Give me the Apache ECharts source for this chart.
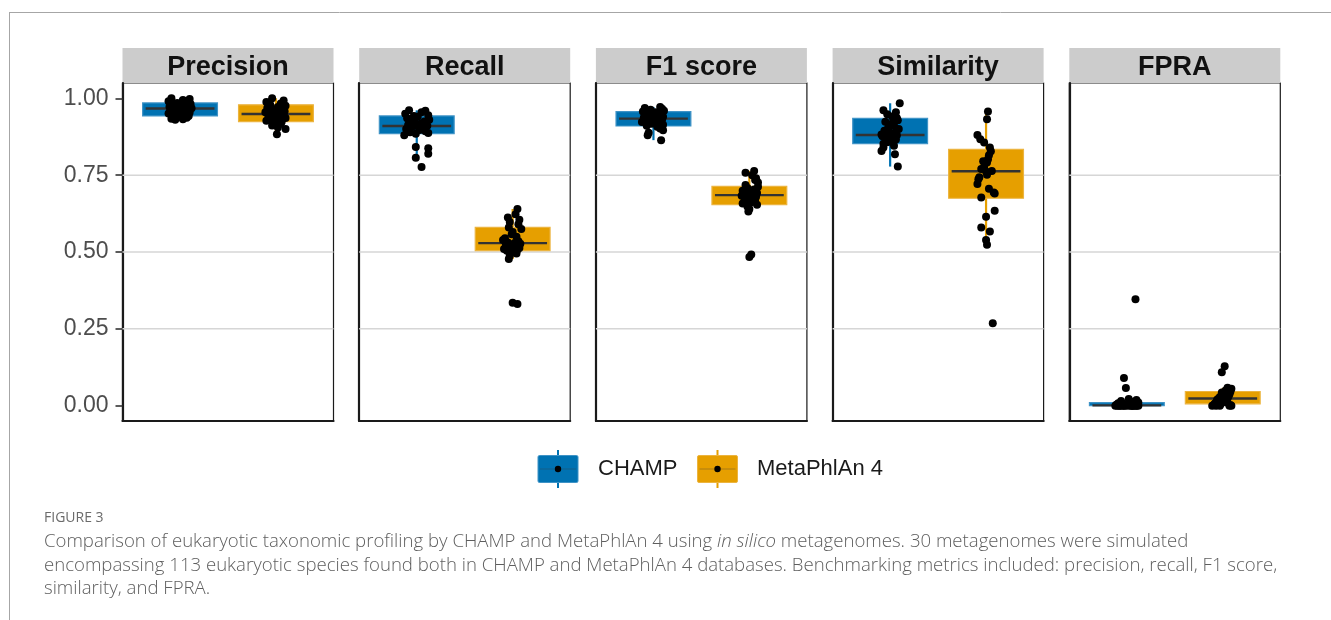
<!DOCTYPE html>
<html>
<head>
<meta charset="utf-8">
<script src="https://cdn.jsdelivr.net/npm/echarts@6/dist/echarts.min.js"></script>
<style>
  html, body { margin: 0; padding: 0; background: #ffffff; }
  #chart { width: 1331px; height: 620px; }
</style>
</head>
<body>
<div id="chart"></div>
<script>
// ---- data -------------------------------------------------------------
const metrics = ['Precision', 'Recall', 'F1 score', 'Similarity', 'FPRA'];
const methods = ['CHAMP', 'MetaPhlAn 4'];
const yTicks = [0, 0.25, 0.5, 0.75, 1];
const gridValues = [0.25, 0.5, 0.75];

// box summaries per metric: [lower whisker, Q1, median, Q3, upper whisker]
const boxChamp = [
  [0.930, 0.943, 0.967, 0.985, 1.000],
  [0.807, 0.885, 0.910, 0.943, 0.961],
  [0.864, 0.910, 0.934, 0.957, 0.972],
  [0.778, 0.853, 0.881, 0.935, 0.984],
  [0.000, 0.000, 0.001, 0.010, 0.022]
];
const boxMeta = [
  [0.883, 0.924, 0.949, 0.979, 1.000],
  [0.477, 0.504, 0.529, 0.580, 0.640],
  [0.632, 0.654, 0.685, 0.714, 0.764],
  [0.524, 0.675, 0.763, 0.834, 0.957],
  [0.000, 0.006, 0.023, 0.046, 0.058]
];

// per-metagenome scores (30 simulated metagenomes)
const precisionChamp = [1.000, 0.998, 0.995, 0.991, 0.988, 0.985, 0.982, 0.980, 0.978, 0.975, 0.973, 0.971, 0.969, 0.968, 0.967, 0.966, 0.964, 0.962, 0.960, 0.957, 0.954, 0.951, 0.948, 0.945, 0.943, 0.940, 0.937, 0.934, 0.932, 0.930];
const precisionMeta = [1.000, 0.993, 0.988, 0.983, 0.979, 0.976, 0.972, 0.969, 0.965, 0.962, 0.958, 0.955, 0.952, 0.950, 0.949, 0.947, 0.945, 0.942, 0.939, 0.936, 0.933, 0.930, 0.927, 0.924, 0.921, 0.917, 0.912, 0.905, 0.900, 0.883];
const recallChamp = [0.961, 0.960, 0.955, 0.950, 0.945, 0.943, 0.940, 0.935, 0.930, 0.928, 0.925, 0.920, 0.917, 0.913, 0.911, 0.910, 0.908, 0.905, 0.900, 0.897, 0.893, 0.890, 0.887, 0.885, 0.880, 0.842, 0.838, 0.820, 0.807, 0.777];
const recallMeta = [0.640, 0.623, 0.612, 0.605, 0.598, 0.590, 0.580, 0.575, 0.565, 0.558, 0.550, 0.545, 0.539, 0.535, 0.531, 0.529, 0.527, 0.524, 0.520, 0.517, 0.513, 0.510, 0.507, 0.504, 0.500, 0.495, 0.488, 0.477, 0.335, 0.331];
const f1Champ = [0.972, 0.969, 0.966, 0.963, 0.960, 0.957, 0.955, 0.952, 0.949, 0.946, 0.943, 0.940, 0.938, 0.936, 0.934, 0.933, 0.931, 0.929, 0.926, 0.923, 0.920, 0.917, 0.914, 0.911, 0.908, 0.902, 0.896, 0.888, 0.880, 0.864];
const f1Meta = [0.764, 0.758, 0.750, 0.740, 0.734, 0.726, 0.718, 0.712, 0.708, 0.703, 0.699, 0.695, 0.692, 0.689, 0.686, 0.685, 0.683, 0.680, 0.677, 0.674, 0.670, 0.666, 0.662, 0.658, 0.654, 0.648, 0.640, 0.632, 0.492, 0.484];
const similarityChamp = [0.984, 0.961, 0.955, 0.948, 0.941, 0.936, 0.929, 0.924, 0.918, 0.912, 0.905, 0.900, 0.895, 0.891, 0.888, 0.884, 0.882, 0.880, 0.877, 0.873, 0.870, 0.866, 0.862, 0.857, 0.852, 0.846, 0.840, 0.829, 0.818, 0.778];
const similarityMeta = [0.957, 0.932, 0.881, 0.867, 0.856, 0.840, 0.828, 0.815, 0.802, 0.795, 0.791, 0.777, 0.770, 0.764, 0.762, 0.751, 0.743, 0.737, 0.721, 0.706, 0.694, 0.690, 0.677, 0.634, 0.615, 0.580, 0.567, 0.539, 0.524, 0.268];
const fpraChamp = [0.346, 0.090, 0.057, 0.022, 0.018, 0.015, 0.012, 0.010, 0.008, 0.006, 0.005, 0.004, 0.003, 0.002, 0.001, 0, 0, 0, 0, 0, 0, 0, 0, 0, 0, 0, 0, 0, 0, 0];
const fpraMeta = [0.128, 0.109, 0.058, 0.055, 0.052, 0.049, 0.046, 0.043, 0.040, 0.037, 0.034, 0.031, 0.028, 0.025, 0.023, 0.022, 0.020, 0.018, 0.015, 0.012, 0.010, 0.008, 0.006, 0.004, 0.002, 0, 0, 0, 0, 0];

// horizontal jitter of each point, in category units
const precisionChampJitter = [-0.09, 0.10, 0.03, -0.12, 0.07, -0.03, 0.11, -0.08, 0.02, 0.09, -0.11, 0.05, -0.02, 0.12, -0.06, 0.08, -0.10, 0.01, 0.06, -0.04, 0.10, -0.12, 0.04, -0.07, 0.09, -0.01, 0.07, -0.09, 0.03, -0.05];
const precisionMetaJitter = [-0.04, 0.08, -0.10, 0.05, -0.06, 0.10, 0.02, -0.09, 0.07, -0.03, 0.09, -0.11, 0.04, -0.05, 0.01, 0.08, -0.08, 0.06, -0.02, 0.10, -0.07, 0.03, -0.10, 0.06, -0.01, 0.05, -0.04, 0.02, 0.10, 0.01];
const recallChampJitter = [-0.08, 0.09, 0.05, -0.12, 0.12, -0.03, 0.01, -0.10, 0.13, -0.06, 0.08, -0.02, 0.04, -0.09, 0.11, 0.00, -0.05, 0.07, -0.11, 0.03, 0.09, -0.07, 0.12, -0.01, -0.13, -0.01, 0.12, 0.12, -0.01, 0.05];
const recallMetaJitter = [0.05, 0.03, -0.05, 0.07, -0.03, 0.06, -0.04, 0.09, 0.00, -0.01, 0.04, -0.08, -0.10, 0.06, -0.05, 0.02, 0.08, -0.07, 0.03, -0.02, 0.07, -0.09, 0.05, -0.06, 0.01, 0.04, -0.03, -0.04, 0.00, 0.05];
const f1ChampJitter = [0.07, -0.09, 0.09, -0.03, 0.11, -0.11, 0.02, 0.08, -0.06, 0.04, -0.01, 0.10, -0.10, 0.05, -0.04, 0.01, 0.09, -0.08, 0.03, -0.12, 0.06, -0.02, 0.10, -0.07, 0.04, 0.07, 0.10, -0.05, -0.06, 0.08];
const f1MetaJitter = [0.05, -0.04, 0.03, 0.07, 0.06, 0.09, -0.04, 0.09, -0.02, 0.05, -0.07, 0.03, 0.08, -0.06, -0.01, 0.04, -0.08, 0.07, -0.03, 0.01, 0.06, -0.05, 0.02, -0.07, 0.08, -0.02, 0.00, -0.01, 0.02, 0.00];
const similarityChampJitter = [0.10, -0.07, 0.06, -0.03, 0.02, 0.07, 0.08, -0.05, 0.02, 0.04, -0.02, 0.09, -0.06, -0.01, 0.05, 0.03, -0.09, 0.07, -0.08, 0.01, -0.04, 0.06, 0.00, -0.03, -0.07, 0.04, -0.07, -0.09, 0.05, 0.08];
const similarityMetaJitter = [0.02, 0.01, -0.09, -0.06, -0.02, 0.04, 0.05, 0.03, 0.02, -0.03, 0.01, -0.02, -0.05, 0.06, 0.00, 0.01, -0.07, -0.08, -0.09, 0.03, 0.08, 0.09, -0.05, 0.09, 0.00, -0.05, 0.04, 0.00, 0.01, 0.07];
const fpraChampJitter = [0.09, -0.03, -0.01, 0.02, 0.10, -0.06, 0.06, 0.12, -0.09, 0.03, -0.04, 0.08, -0.11, 0.00, 0.11, -0.10, -0.07, -0.05, -0.02, 0.01, 0.04, 0.06, 0.09, 0.12, -0.08, -0.03, 0.05, 0.10, -0.12, 0.07];
const fpraMetaJitter = [0.02, -0.01, 0.05, 0.09, 0.06, 0.03, 0.08, -0.01, 0.04, 0.07, 0.00, 0.06, -0.03, 0.02, 0.05, -0.05, 0.03, -0.06, 0.01, -0.04, 0.04, -0.08, -0.02, -0.09, 0.08, -0.11, -0.07, 0.09, -0.03, 0.07];

const champScores = [precisionChamp, recallChamp, f1Champ, similarityChamp, fpraChamp];
const metaScores = [precisionMeta, recallMeta, f1Meta, similarityMeta, fpraMeta];
const champJitter = [precisionChampJitter, recallChampJitter, f1ChampJitter, similarityChampJitter, fpraChampJitter];
const metaJitter = [precisionMetaJitter, recallMetaJitter, f1MetaJitter, similarityMetaJitter, fpraMetaJitter];

// ---- layout & style ---------------------------------------------------
const FILL = ['#0072B2', '#E69F00'];
const EDGE = ['#3f93c6', '#ecb43f'];
const PANEL_LEFT = 122.5, PANEL_STEP = 236.7, PANEL_W = 211;
const PANEL_TOP = 83, PANEL_H = 338;
const STRIP_TOP = 48, STRIP_H = 35;
const X_MIN = 0.4, X_MAX = 2.6, BOX_W = 0.78;
const FONT = '"Liberation Sans", Arial, Helvetica, sans-serif';
const CAPTION_FONT = '"Open Sans", Lato, sans-serif';

const chart = echarts.init(document.getElementById('chart'), null, { renderer: 'canvas' });

const grids = [], xAxes = [], yAxes = [], series = [], graphics = [];

function gridLineItem(params, api) {
  const y = api.value(1);
  const a = api.coord([X_MIN, y]);
  const b = api.coord([X_MAX, y]);
  return {
    type: 'line',
    shape: { x1: a[0], y1: a[1], x2: b[0], y2: b[1] },
    style: { stroke: '#d6d6d6', lineWidth: 1.6 },
    silent: true
  };
}

function boxItem(params, api) {
  const x = api.value(0);
  const lo = api.value(1), q1 = api.value(2), med = api.value(3), q3 = api.value(4), hi = api.value(5);
  const k = params.dataIndex;
  const pLo = api.coord([x, lo]), pHi = api.coord([x, hi]);
  const tl = api.coord([x - BOX_W / 2, q3]);
  const br = api.coord([x + BOX_W / 2, q1]);
  const m1 = api.coord([x - BOX_W / 2, med]);
  const m2 = api.coord([x + BOX_W / 2, med]);
  return {
    type: 'group',
    children: [
      { type: 'line', shape: { x1: pLo[0], y1: pLo[1], x2: pHi[0], y2: pHi[1] },
        style: { stroke: FILL[k], lineWidth: 2.2 } },
      { type: 'rect', shape: { x: tl[0], y: tl[1], width: br[0] - tl[0], height: Math.max(br[1] - tl[1], 3) },
        style: { fill: FILL[k], stroke: EDGE[k], lineWidth: 1.2 } },
      { type: 'line', shape: { x1: m1[0] + 3, y1: m1[1], x2: m2[0] - 3, y2: m2[1] },
        style: { stroke: '#333333', lineWidth: 2.4 } }
    ]
  };
}

metrics.forEach((name, i) => {
  const left = PANEL_LEFT + i * PANEL_STEP;
  grids.push({ left: left, top: PANEL_TOP, width: PANEL_W, height: PANEL_H,
    show: true, borderColor: '#1a1a1a', borderWidth: 1.2, backgroundColor: 'transparent' });
  xAxes.push({ type: 'value', gridIndex: i, min: X_MIN, max: X_MAX,
    axisLine: { show: true, onZero: false, lineStyle: { color: '#1a1a1a', width: 2.2 } },
    axisTick: { show: false }, axisLabel: { show: false }, splitLine: { show: false } });
  yAxes.push({ type: 'value', gridIndex: i, min: -0.05, max: 1.05,
    axisLine: { show: true, onZero: false, lineStyle: { color: '#1a1a1a', width: 2.2 } },
    axisTick: { show: i === 0, customValues: yTicks, length: 7, lineStyle: { color: '#333333', width: 1.6 } },
    axisLabel: { show: i === 0, customValues: yTicks, formatter: v => v.toFixed(2), margin: 14,
      fontFamily: FONT, fontSize: 23, color: '#4d4d4d' },
    splitLine: { show: false } });

  series.push({ type: 'custom', xAxisIndex: i, yAxisIndex: i, z: 1, silent: true,
    renderItem: gridLineItem, data: gridValues.map(v => [1, v]) });
  series.push({ type: 'custom', xAxisIndex: i, yAxisIndex: i, z: 2, silent: true,
    renderItem: boxItem, encode: { x: 0, y: [1, 2, 3, 4, 5] },
    data: [[1].concat(boxChamp[i]), [2].concat(boxMeta[i])] });
  series.push({ type: 'scatter', name: methods[0], xAxisIndex: i, yAxisIndex: i, z: 3, silent: true,
    symbolSize: 8, itemStyle: { color: '#000000', opacity: 1 },
    data: champScores[i].map((v, j) => [1 + champJitter[i][j], v]) });
  series.push({ type: 'scatter', name: methods[1], xAxisIndex: i, yAxisIndex: i, z: 3, silent: true,
    symbolSize: 8, itemStyle: { color: '#000000', opacity: 1 },
    data: metaScores[i].map((v, j) => [2 + metaJitter[i][j], v]) });

  // facet strip
  graphics.push({ type: 'rect', left: left, top: STRIP_TOP, silent: true,
    shape: { width: PANEL_W, height: STRIP_H }, style: { fill: '#cccccc' } });
  graphics.push({ type: 'text', silent: true, x: left + PANEL_W / 2, y: STRIP_TOP + STRIP_H / 2 + 2,
    style: { text: name, fill: '#111111', font: 'bold 27px ' + FONT, align: 'center', verticalAlign: 'middle' } });
});

// figure frame
graphics.push({ type: 'line', silent: true, shape: { x1: 9, y1: 12.5, x2: 1331, y2: 12.5 },
  style: { stroke: '#a6a6a6', lineWidth: 1 } });
graphics.push({ type: 'line', silent: true, shape: { x1: 9.5, y1: 12, x2: 9.5, y2: 620 },
  style: { stroke: '#a6a6a6', lineWidth: 1 } });

// legend keys
const legendKeys = [{ x: 538, label: methods[0], tx: 598 }, { x: 697.5, label: methods[1], tx: 757 }];
legendKeys.forEach((k, i) => {
  const cx = k.x + 20;
  graphics.push({ type: 'line', silent: true, shape: { x1: cx, y1: 450, x2: cx, y2: 488 },
    style: { stroke: FILL[i], lineWidth: 2 } });
  graphics.push({ type: 'rect', silent: true, shape: { x: k.x, y: 455.5, width: 40, height: 27, r: 1.5 },
    style: { fill: FILL[i], stroke: EDGE[i], lineWidth: 1 } });
  graphics.push({ type: 'line', silent: true, shape: { x1: k.x + 2, y1: 469, x2: k.x + 38, y2: 469 },
    style: { stroke: 'rgba(60,60,60,0.35)', lineWidth: 1 } });
  graphics.push({ type: 'circle', silent: true, shape: { cx: cx, cy: 469, r: 3.2 },
    style: { fill: '#000000' } });
  graphics.push({ type: 'text', silent: true, x: k.tx, y: 469,
    style: { text: k.label, fill: '#1a1a1a', font: '22px ' + FONT, verticalAlign: 'middle' } });
});

// caption
graphics.push({ type: 'text', silent: true, x: 44, y: 518,
  style: { text: 'FIGURE 3', fill: '#6b6b6b', font: '14px ' + CAPTION_FONT, verticalAlign: 'middle' } });
const capStyle = { fill: '#5e5e5e', fontFamily: CAPTION_FONT, fontSize: 18.6, fontWeight: 300 };
graphics.push({ type: 'text', silent: true, x: 44, y: 542,
  style: { text: '{n|Comparison of eukaryotic taxonomic profiling by CHAMP and MetaPhlAn 4 using }{i|in silico}{n| metagenomes. 30 metagenomes were simulated}',
    verticalAlign: 'middle',
    rich: { n: capStyle, i: Object.assign({}, capStyle, { fontStyle: 'italic' }) } } });
graphics.push({ type: 'text', silent: true, x: 44, y: 566,
  style: { text: 'encompassing 113 eukaryotic species found both in CHAMP and MetaPhlAn 4 databases. Benchmarking metrics included: precision, recall, F1 score,',
    verticalAlign: 'middle', fill: '#5e5e5e', fontFamily: CAPTION_FONT, fontSize: 18.6, fontWeight: 300 } });
graphics.push({ type: 'text', silent: true, x: 44, y: 589,
  style: { text: 'similarity, and FPRA.',
    verticalAlign: 'middle', fill: '#5e5e5e', fontFamily: CAPTION_FONT, fontSize: 18.6, fontWeight: 300 } });

chart.setOption({
  animation: false,
  backgroundColor: '#ffffff',
  grid: grids,
  xAxis: xAxes,
  yAxis: yAxes,
  series: series,
  graphic: graphics
});
</script>
</body>
</html>
